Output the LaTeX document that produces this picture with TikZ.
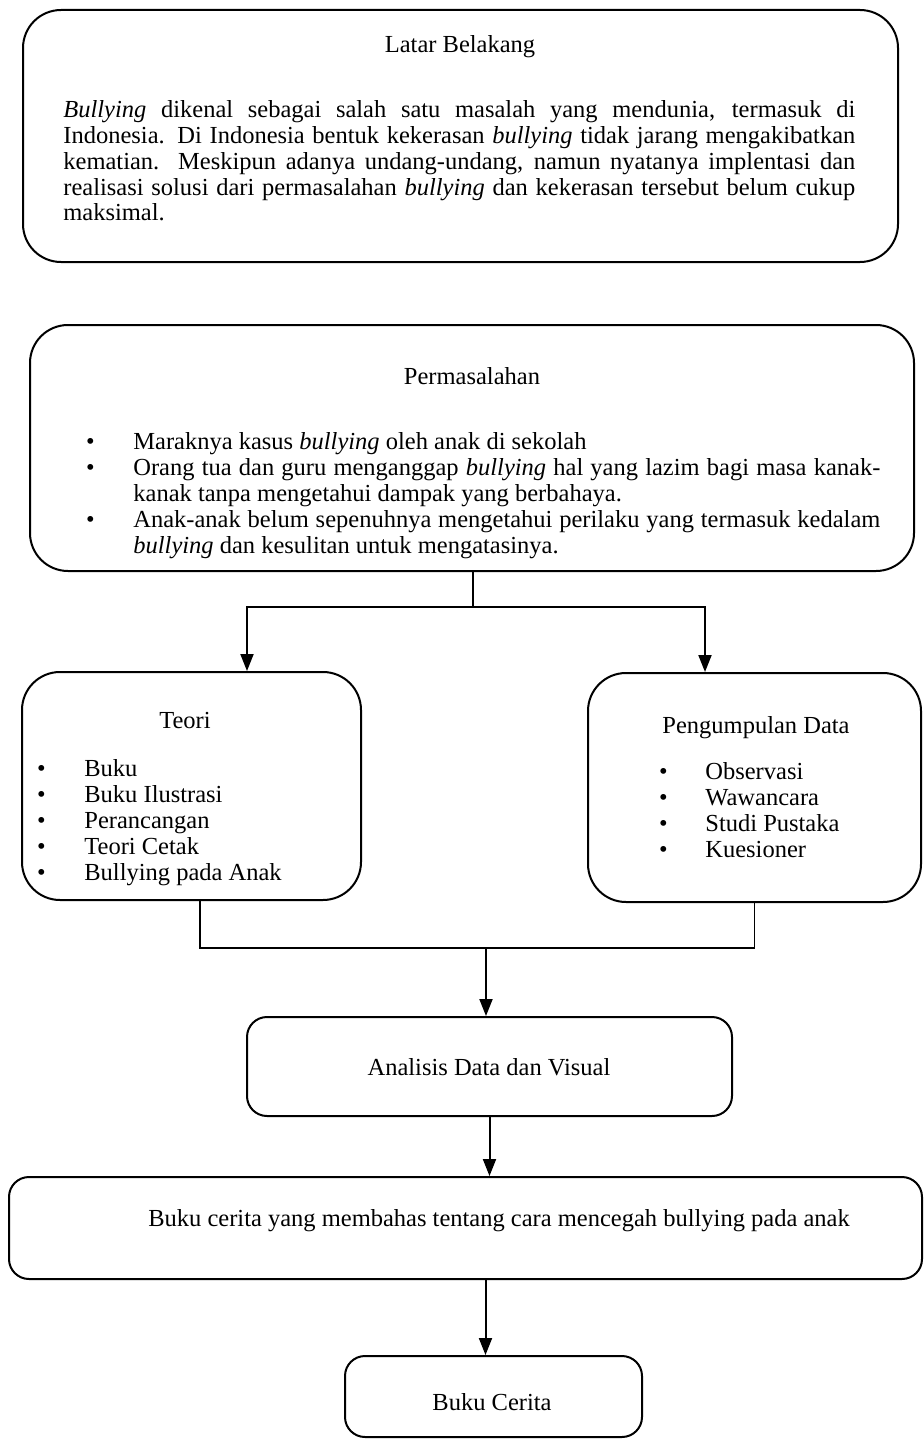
\documentclass[tikz,border=0pt]{standalone}
\usepackage{fontspec}
\setmainfont{Liberation Serif}
\usetikzlibrary{arrows.meta,fit}
\setlength\parindent{0pt}
\tolerance=9999
\hyphenpenalty=10000

\tikzset{
  panel/.style={draw, line width=1pt, rounded corners=19pt, inner sep=0pt},
  smallpanel/.style={panel, rounded corners=10pt},
  heading/.style={inner sep=0pt, anchor=base},
  body/.style={inner sep=0pt, anchor=north west, align=justify},
  listitem/.style={inner sep=0pt, anchor=base west},
  link/.style={line width=0.75pt},
  flow/.style={line width=1pt, -{Triangle[length=8.5pt,width=6.5pt]}}
}
\newcommand{\bul}[1][19.4pt]{\leavevmode\llap{\textbullet\hspace{#1}}}

\begin{document}
\begin{tikzpicture}[x=0.5pt, y=-0.5pt, font=\fontsize{12.25}{12.875}\selectfont]
\useasboundingbox (0,0) rectangle (923,1439);

% latar belakang
\node[panel, fit={(23,10) (898,262)}] (latar) {};
\node[heading] (latarjudul) at (460,52.5) {Latar Belakang};
\node[body, text width=396pt] (latarisi) at (63,99.5) {\strut\textit{Bullying} dikenal sebagai salah satu masalah yang mendunia, termasuk di\linebreak
Indonesia. Di Indonesia bentuk kekerasan \textit{bullying} tidak jarang mengakibatkan\linebreak
kematian. Meskipun adanya undang-undang, namun nyatanya implentasi dan\linebreak
realisasi solusi dari permasalahan \textit{bullying} dan kekerasan tersebut belum cukup\linebreak
maksimal.};

% permasalahan
\node[panel, fit={(30,325) (914,571)}] (masalah) {};
\node[heading] (masalahjudul) at (472,384.5) {Permasalahan};
\node[body, text width=373.5pt, font=\fontsize{12.25}{13}\selectfont] (masalahisi) at (133,431.3) {%
\strut\bul Maraknya kasus \textit{bullying} oleh anak di sekolah\par
\bul Orang tua dan guru menganggap \textit{bullying} hal yang lazim bagi masa kanak-\linebreak
kanak tanpa mengetahui dampak yang berbahaya.\par
\bul Anak-anak belum sepenuhnya mengetahui perilaku yang termasuk kedalam\linebreak
\textit{bullying} dan kesulitan untuk mengatasinya.};

% teori dan pengumpulan data
\node[panel, fit={(22,672) (361,900)}] (teori) {};
\node[heading] (teorijudul) at (185,728.5) {Teori};
\foreach \t [count=\i] in {Buku, Buku Ilustrasi, Perancangan, Teori Cetak, Bullying pada Anak}
  \node[listitem] (teori\i) at (84,{750.5+26*\i}) {\bul\t};

\node[panel, fit={(588,673) (921,902)}] (kumpul) {};
\node[heading] (kumpuljudul) at (756,733.5) {Pengumpulan Data};
\foreach \t [count=\i] in {Observasi, Wawancara, Studi Pustaka, Kuesioner}
  \node[listitem] (kumpul\i) at (705,{753.5+26*\i}) {\bul[18.9pt]\t};

% analisis dan hasil
\node[smallpanel, fit={(247,1017) (732,1116)}] (analisis) {};
\node[heading] (analisisteks) at (489,1075.5) {Analisis Data dan Visual};

\node[smallpanel, fit={(9,1177) (922,1279)}] (konsep) {};
\node[heading] (konsepteks) at (499,1226.5) {Buku cerita yang membahas tentang cara mencegah bullying pada anak};

\node[smallpanel, fit={(345,1356) (642,1437)}] (hasil) {};
\node[heading] (hasilteks) at (492,1410.5) {Buku Cerita};

% garis penghubung
\coordinate (fork) at (473,607);
\coordinate (join) at (486,948);
\draw[link] (masalah.south -| fork) -- (fork);
\draw[flow] (fork) -| ([xshift=27.75pt]teori.north);
\draw[flow] (fork) -| ([xshift=-24.75pt]kumpul.north);
\draw[link] ([xshift=4.25pt]teori.south) |- (join) -| (kumpul.south);
\draw[flow] (join) -- (join |- analisis.north);
\draw[flow] (analisis.south) -- (analisis.south |- konsep.north);
\draw[flow] ([xshift=-4pt]hasil.north |- konsep.south) -- ([xshift=-4pt]hasil.north);

\end{tikzpicture}
\end{document}
